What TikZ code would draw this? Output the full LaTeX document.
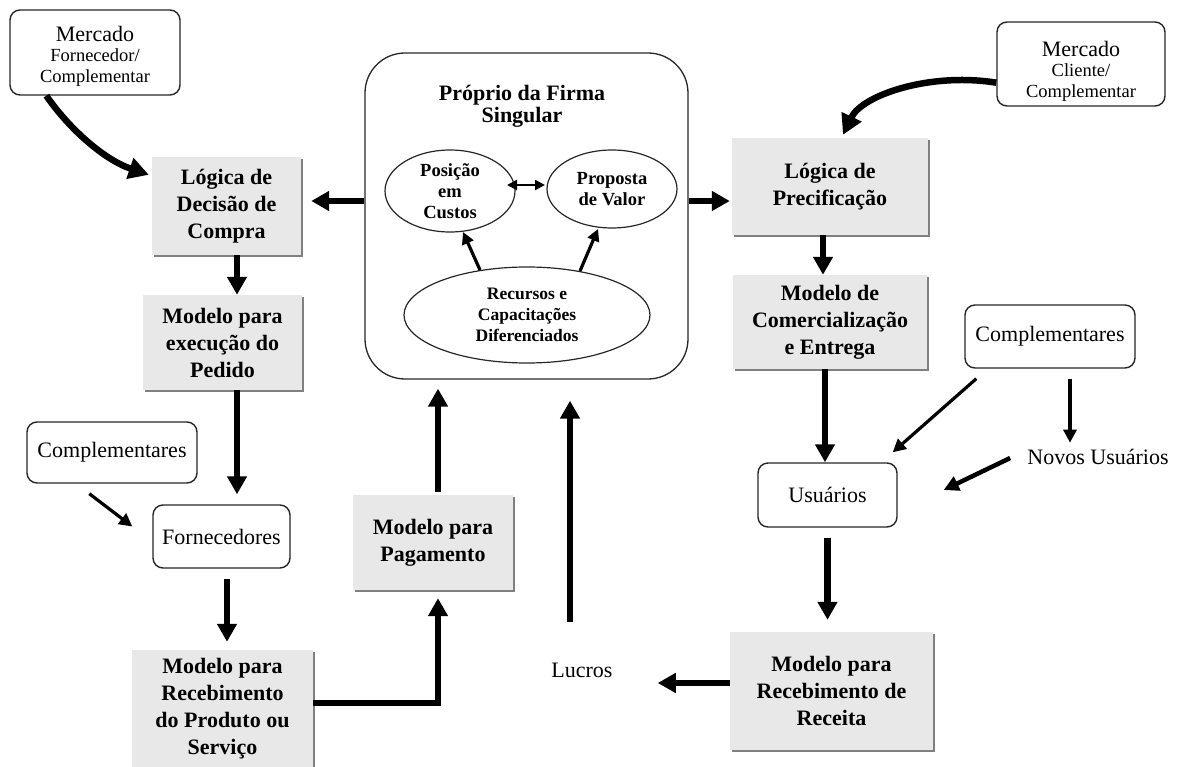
\documentclass[tikz,border=0pt]{standalone}
\usepackage{fontspec}
\setmainfont{Liberation Serif}
\usetikzlibrary{arrows.meta,calc,shapes.geometric,shadows}
\begin{document}
\begin{tikzpicture}[x=1pt,y=-1pt,
  gbox/.style={rectangle, fill=black!9, draw=none, inner sep=0pt, align=center,
    font=\bfseries\fontsize{22}{27}\selectfont,
    drop shadow={shadow xshift=1.6pt, shadow yshift=-1.6pt, fill=black!50, opacity=1}},
  rbox/.style={rectangle, rounded corners=10pt, draw=black!85, line width=1.4pt, fill=white,
    inner sep=0pt, align=center, font=\fontsize{22}{26}\selectfont},
  ell/.style={ellipse, draw=black!85, line width=1.2pt, inner sep=0pt, align=center,
    font=\bfseries\fontsize{18.5}{21}\selectfont},
  plaintext/.style={inner sep=0pt, align=center, font=\fontsize{22}{26}\selectfont},
  mkttext/.style={inner sep=0pt, align=center, font=\fontsize{18.5}{20.5}\selectfont},
  thickarr/.style={-{Triangle[length=18pt,width=19pt]}, line width=6.5pt},
  curvearr/.style={-{Triangle[length=20pt,width=21pt]}, line width=6.5pt},
  midarr/.style={-{Triangle[length=15pt,width=15pt]}, line width=4.5pt},
  thinarr/.style={-{Triangle[length=13pt,width=13pt]}, line width=3.2pt},
  ellarr/.style={-{Triangle[length=12pt,width=12pt]}, line width=3.2pt},
  dblarr/.style={{Triangle[length=10pt,width=10pt]}-{Triangle[length=10pt,width=10pt]}, line width=2.4pt}
]
\useasboundingbox (0,0) rectangle (1181,767);

% central firm box
\node[draw=black!85, line width=1.3pt, rounded corners=40pt, minimum width=323pt, minimum height=326pt, inner sep=0pt] (firm) at (526.5,216) {};
\node[inner sep=0pt, align=center, font=\bfseries\fontsize{22}{22}\selectfont] (title) at (522,106) {Próprio da Firma\\Singular};
\node[ell, minimum width=130pt, minimum height=82pt] (pos) at (450,191) {Posição\\em\\Custos};
\node[ell, minimum width=130pt, minimum height=78pt] (prop) at (612,189) {Proposta\\de Valor};
\node[ell, minimum width=246pt, minimum height=96pt, font=\bfseries\fontsize{17.5}{21}\selectfont] (rec) at (527,315) {Recursos e\\Capacitações\\Diferenciados};

% left side
\node[rbox, minimum width=170pt, minimum height=85pt] (mf) at (95,52.5) {};
\node[mkttext] (mft) at (95,56) {{\fontsize{22}{22}\selectfont Mercado}\\Fornecedor/\\Complementar};
\node[gbox, minimum width=149pt, minimum height=98pt] (ldc) at (226.5,206) {Lógica de\\Decisão de\\Compra};
\node[gbox, minimum width=159pt, minimum height=95pt] (mep) at (222.5,342.5) {Modelo para\\execução do\\Pedido};
\node[rbox, minimum width=170pt, minimum height=61pt] (cpl) at (112,452.5) {Complementares};
\node[rbox, minimum width=137pt, minimum height=63pt] (frn) at (221.5,536.5) {Fornecedores};
\node[gbox, minimum width=181pt, minimum height=117pt] (mrp) at (222.5,708.5) {Modelo para\\Recebimento\\do Produto ou\\Serviço};
\node[gbox, minimum width=160pt, minimum height=95pt] (mpg) at (433,542.5) {Modelo para\\Pagamento};
\node[plaintext] (luc) at (582,670) {Lucros};

% right side
\node[rbox, minimum width=168pt, minimum height=84pt] (mc) at (1081,64) {};
\node[mkttext] (mct) at (1081,71) {{\fontsize{22}{22}\selectfont Mercado}\\Cliente/\\Complementar};
\node[gbox, minimum width=196pt, minimum height=97pt] (lp) at (830,186.5) {Lógica de\\Precificação};
\node[gbox, minimum width=194pt, minimum height=94pt] (mce) at (830,322) {Modelo de\\Comercialização\\e Entrega};
\node[rbox, minimum width=170pt, minimum height=63pt] (cpr) at (1050,336.5) {Complementares};
\node[plaintext] (nov) at (1098,457) {Novos Usuários};
\node[rbox, minimum width=139pt, minimum height=64pt] (usu) at (827.5,495) {Usuários};
\node[gbox, minimum width=203pt, minimum height=118pt] (mrr) at (831.5,691) {Modelo para\\Recebimento de\\Receita};

% inner ellipse arrows
\draw[dblarr] ($(pos.center)+(57,-6)$) -- ($(prop.center)+(-67,-4)$);
\draw[ellarr] ($(rec.center)+(-47,-45)$) -- ($(pos.center)+(13,41)$);
\draw[ellarr] ($(rec.center)+(53,-44)$) -- ($(prop.center)+(-14,40)$);

% firm to logic boxes
\coordinate (fl) at ([yshift=15pt]firm.west);
\coordinate (fr) at ([yshift=15pt]firm.east);
\draw[thickarr, shorten >=10pt] (fl) -- (fl -| ldc.east);
\draw[thickarr, shorten >=2pt] (fr) -- (fr -| lp.west);

% curved market arrows
\draw[curvearr] ($(mf.south west)+(37,0)$) .. controls (70,130) and (105,160) .. ($(ldc.north west)+(-3,18)$);
\draw[curvearr] ($(mc.south west)+(0,-24)$) .. controls (930,72) and (862,95) .. ($(lp.north)+(13,-3)$);

% left column
\draw[thickarr] ([xshift=10.5pt]ldc.south) -- ([xshift=10.5pt]ldc.south |- mep.north);
\draw[thickarr, shorten >=10pt] ([xshift=14.5pt]mep.south) -- ([xshift=14.5pt]mep.south |- frn.north);
\draw[thinarr] ($(cpl.south west)+(63,10)$) -- ($(frn.west)+(-20,-10)$);
\draw[thickarr, shorten <=10pt, shorten >=8pt] ([xshift=5.5pt]frn.south) -- ([xshift=5.5pt]frn.south |- mrp.north);
\draw[thickarr, shorten >=8pt, line join=miter] ([yshift=5.5pt]mrp.east) -| ([xshift=5pt]mpg.south);
\draw[thickarr, shorten <=3pt, shorten >=9pt] ([xshift=5pt]mpg.north) -- ([xshift=5pt]mpg.north |- firm.south);
\coordinate (lucup) at ($(luc.center)+(-12,-48)$);
\draw[thickarr, shorten >=21pt] (lucup) -- (lucup |- firm.south);

% right column
\draw[thickarr] ([xshift=-7pt]lp.south) -- ([xshift=-7pt]lp.south |- mce.north);
\draw[thickarr] ([xshift=-5pt]mce.south) -- ([xshift=-5pt]mce.south |- usu.north);
\draw[thickarr, shorten <=10pt, shorten >=12pt] (usu.south) -- (usu.south |- mrr.north);
\draw[thinarr] ($(cpr.south west)+(12,10)$) -- ($(usu.north east)+(-5,-10)$);
\draw[thinarr] ($(cpr.south)+(20,10)$) -- ($(cpr.south)+(20,74)$);
\draw[midarr] ($(nov.west)+(-17,1)$) -- ($(usu.east)+(46,-5)$);
\draw[thickarr, shorten >=45pt] ([yshift=8pt]mrr.west) -- ([yshift=8pt]mrr.west -| luc.east);
\end{tikzpicture}
\end{document}
